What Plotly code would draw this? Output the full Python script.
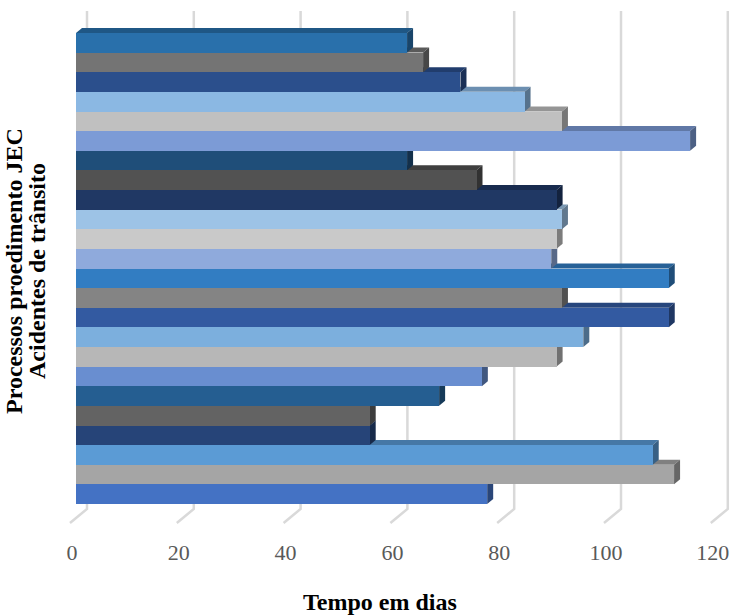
import plotly.graph_objects as go

# Data (bottom bar first)
values = [77, 112, 108, 55, 55, 68, 76, 90, 95, 111, 91, 111,
          89, 90, 91, 90, 75, 62, 115, 91, 84, 72, 65, 62]
colors = ["#4472C4", "#A5A5A5", "#5B9BD5", "#264478", "#636363", "#255E91",
          "#698ED0", "#B7B7B7", "#7CAFDD", "#335AA1", "#848484", "#327DC2",
          "#8FAADC", "#C9C9C9", "#9DC3E6", "#203864", "#525252", "#1F4E79",
          "#7C9BD6", "#C0C0C0", "#8BB8E3", "#2B4F8C", "#747474", "#2970AB"]
tick_values = [0, 20, 40, 60, 80, 100, 120]
x_title = "Tempo em dias"
y_title_lines = ["Processos proedimento JEC", "Acidentes de trânsito"]

W, H = 730, 616
ML, MR, MT, MB = 60, 0, 10, 91
PX_PER_X = 5.34          # pixels per day
PX_PER_Y = 19.625        # pixels per bar
x0_px = 76               # pixel of value 0 on the front plane
plot_w = W - ML - MR
plot_h = H - MT - MB
xmin = -(x0_px - ML) / PX_PER_X
xmax = xmin + plot_w / PX_PER_X
ymin = -0.5 - 21 / PX_PER_Y
ymax = ymin + plot_h / PX_PER_Y

# 3D depth of bars
dx = 6 / PX_PER_X
dy = 5 / PX_PER_Y


def shade(hexc, f):
    h = hexc.lstrip("#")
    r, g, b = (int(h[i:i + 2], 16) for i in (0, 2, 4))
    return "rgb(%d,%d,%d)" % (r * f, g * f, b * f)


shapes = []
# back-wall gridlines with floor diagonals
gx = 11.0 / PX_PER_X
fx = -6 / PX_PER_X
gy_top = ymax - 1 / PX_PER_Y
gy_bot = -0.5 - 5 / PX_PER_Y
fy = -0.5 - 19 / PX_PER_Y
for t in tick_values:
    shapes.append(dict(
        type="path", xref="x", yref="y", layer="below",
        path=f"M {t+gx},{gy_top} L {t+gx},{gy_bot} L {t+fx},{fy}",
        line=dict(color="#D9D9D9", width=2.5)))

# top and side faces of bars
for i, (v, c) in enumerate(zip(values, colors)):
    b, tp = i - 0.5, i + 0.5
    shapes.append(dict(
        type="path", xref="x", yref="y", layer="between",
        path=f"M 0,{tp} L {v},{tp} L {v+dx},{tp+dy} L {dx},{tp+dy} Z",
        fillcolor=shade(c, 0.78), line=dict(width=0)))
    shapes.append(dict(
        type="path", xref="x", yref="y", layer="between",
        path=f"M {v},{b} L {v},{tp} L {v+dx},{tp+dy} L {v+dx},{b+dy} Z",
        fillcolor=shade(c, 0.62), line=dict(width=0)))

fig = go.Figure(go.Bar(
    x=values, y=list(range(len(values))), orientation="h", width=1,
    marker=dict(color=colors, line=dict(width=0)),
    hoverinfo="x"))

serif = "Times New Roman, Liberation Serif, serif"
annotations = [
    dict(text=f"<b>{x_title}</b>", xref="paper", yref="paper",
         x=(380 - ML) / plot_w, y=0, yshift=-(602 - (MT + plot_h)),
         xanchor="center", yanchor="middle", showarrow=False,
         font=dict(family=serif, size=24, color="#000000")),
]
for line, px in zip(y_title_lines, [14, 37]):
    annotations.append(dict(
        text=f"<b>{line}</b>", xref="paper", yref="paper",
        x=0, xshift=px - ML, y=(MT + plot_h - 271) / plot_h,
        xanchor="center", yanchor="middle", textangle=-90, showarrow=False,
        font=dict(family=serif, size=24, color="#000000")))

fig.update_layout(
    width=W, height=H, margin=dict(l=ML, r=MR, t=MT, b=MB),
    paper_bgcolor="white", plot_bgcolor="white",
    bargap=0, showlegend=False,
    shapes=shapes, annotations=annotations,
    xaxis=dict(range=[xmin, xmax], tickvals=tick_values,
               showgrid=False, zeroline=False, showline=False, ticks="",
               tickfont=dict(family=serif, size=22, color="#595959"),
               ticklabelstandoff=12, ticklabelshift=-4,
               ticklabeloverflow="allow"),
    yaxis=dict(range=[ymin, ymax], visible=False),
)

fig.write_html("out.html",
               config={"displayModeBar": False},
               post_script="document.body.style.margin='0';"
                           "document.body.style.overflow='hidden';")
